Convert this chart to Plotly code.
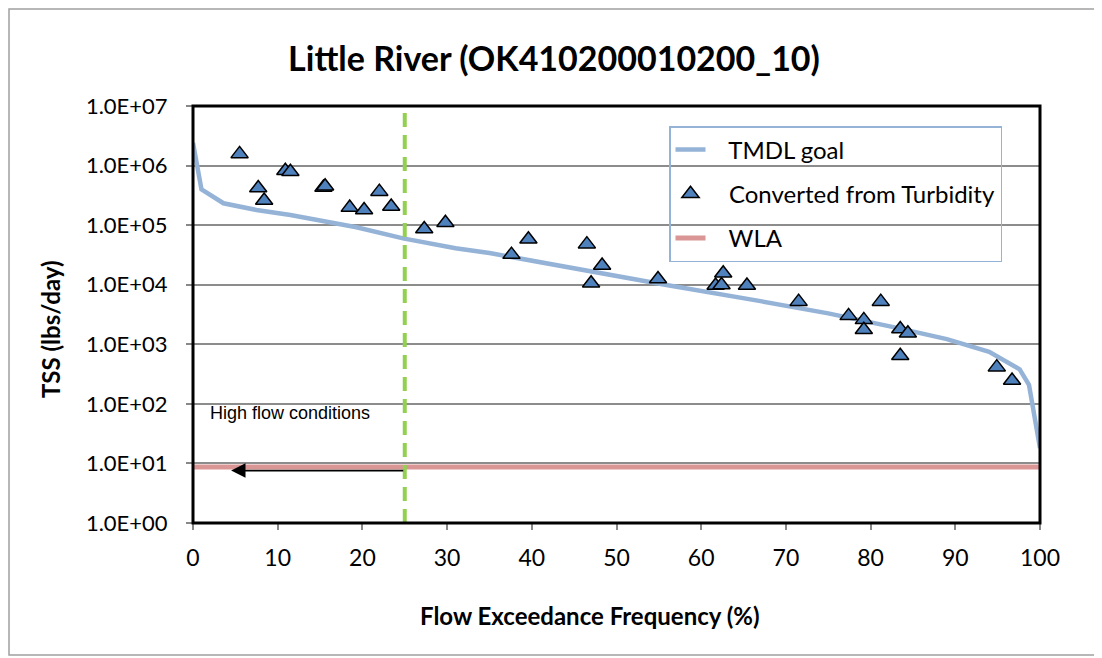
import plotly.graph_objects as go
import math

# ---- data ----
tmdl_x = [0, 1.0, 3.6, 7.5, 11.5, 15.4, 19.3, 24.8, 31.0, 35.0, 45.7, 55.9, 67.0, 75.0, 82.7, 89.0, 94.0, 97.6, 98.7, 100]
tmdl_y = [2.4e6, 4.0e5, 2.33e5, 1.8e5, 1.48e5, 1.19e5, 9.2e4, 6.0e4, 4.1e4, 3.4e4, 1.77e4, 9.9e3, 5.3e3, 3.3e3, 1.94e3, 1.22e3, 7.5e2, 3.8e2, 2.08e2, 18]

turb_x = [5.5, 7.7, 8.4, 10.9, 11.5, 15.4, 15.6, 18.5, 20.2, 22.0, 23.4, 27.3, 29.8,
          37.6, 39.6, 46.5, 47.0, 48.3, 54.9, 61.7, 62.4, 62.6, 65.4,
          71.5, 77.4, 79.2, 79.2, 81.2, 83.5, 83.5, 84.4, 94.9, 96.7]
turb_y = [1.57e6, 4.2e5, 2.6e5, 8.2e5, 7.9e5, 4.3e5, 4.5e5, 1.97e5, 1.8e5, 3.65e5, 2.05e5, 8.6e4, 1.1e5,
          3.2e4, 5.8e4, 4.8e4, 1.06e4, 2.1e4, 1.25e4, 9.7e3, 9.9e3, 1.56e4, 9.7e3,
          5.2e3, 3.0e3, 2.57e3, 1.75e3, 5.2e3, 1.8e3, 6.4e2, 1.53e3, 4.13e2, 2.47e2]

wla_x = [0, 100]
wla_y = [8.7, 8.7]

boundary_x = [25, 25]
boundary_y = [1, 1e7]

y_tickvals = [1, 10, 100, 1e3, 1e4, 1e5, 1e6, 1e7]
y_ticktext = ["1.0E+00", "1.0E+01", "1.0E+02", "1.0E+03", "1.0E+04", "1.0E+05", "1.0E+06", "1.0E+07"]
x_tickvals = [0, 10, 20, 30, 40, 50, 60, 70, 80, 90, 100]

title = "Little River (OK410200010200_10)"
font_main = "Lato, Open Sans, sans-serif"

W, H = 1094, 650
L, R, T, B = 185, 1032, 98, 515  # plot area in figure pixels


def px(fx):
    return (fx - L) / (R - L)


def py(fy):
    return (B - fy) / (B - T)


pad = "\u00a0" * 3

fig = go.Figure()

fig.add_trace(go.Scatter(
    x=tmdl_x, y=tmdl_y, mode="lines", name=pad + "TMDL goal",
    line=dict(color="#95B3D7", width=4.5), legendgroup="a"))
fig.add_trace(go.Scatter(
    x=turb_x, y=turb_y, mode="markers", name=pad + "Converted from Turbidity",
    marker=dict(symbol="triangle-up", size=15, color="#4F81BD",
                line=dict(color="black", width=1.5)), legendgroup="b"))
fig.add_trace(go.Scatter(
    x=wla_x, y=wla_y, mode="lines", name=pad + "WLA",
    line=dict(color="#D99694", width=5), legendgroup="c"))
fig.add_trace(go.Scatter(
    x=boundary_x, y=boundary_y, mode="lines", showlegend=False,
    line=dict(color="#92D050", width=4, dash="14px,8px"), hoverinfo="skip"))

fig.update_layout(
    width=W, height=H,
    margin=dict(l=L, r=W - R, t=T, b=H - B),
    paper_bgcolor="white", plot_bgcolor="white",
    font=dict(family=font_main, size=22, color="black"),
    title=dict(text="<b>" + title + "</b>", x=546 / W, xanchor="center",
               y=1 - 51 / H, yanchor="middle", font=dict(size=34)),
    showlegend=True,
    legend=dict(x=px(661), y=py(118), xanchor="left", yanchor="top",
                bgcolor="rgba(0,0,0,0)", bordercolor="#95B3D7", borderwidth=1.5,
                font=dict(size=24), tracegroupgap=10),
    xaxis=dict(range=[0, 100], tickvals=x_tickvals, showgrid=False, zeroline=False,
               ticks="outside", ticklen=6, tickcolor="#888888", tickwidth=1.5,
               showline=False, tickfont=dict(size=23), ticklabelstandoff=8),
    yaxis=dict(type="log", range=[0, 7], tickvals=y_tickvals, ticktext=y_ticktext,
               showgrid=True, gridcolor="#8C8C8C", gridwidth=1.5, zeroline=False,
               ticks="outside", ticklen=6, tickcolor="#888888", tickwidth=1.5,
               showline=False, tickfont=dict(size=22), ticklabelstandoff=14),
)

# plot-area frame
fig.add_shape(type="rect", xref="paper", yref="paper", x0=0, y0=0, x1=1, y1=1,
              line=dict(color="black", width=3), layer="above")
# outer chart border
fig.add_shape(type="rect", xref="paper", yref="paper",
              x0=px(1), x1=px(1087), y0=py(647), y1=py(1),
              line=dict(color="#A0A0A0", width=1.5))

# axis titles
fig.add_annotation(text="<b>Flow Exceedance Frequency (%)</b>", xref="paper", yref="paper",
                   x=px(581), y=py(607), showarrow=False, font=dict(size=24),
                   xanchor="center", yanchor="middle")
fig.add_annotation(text="<b>TSS (lbs/day)</b>", xref="paper", yref="paper",
                   x=px(42), y=py(321), textangle=-90, showarrow=False,
                   font=dict(size=24), xanchor="center", yanchor="middle")

# high flow arrow + label
fig.add_annotation(x=4.5, y=math.log10(7.6), ax=25, ay=math.log10(7.6),
                   xref="x", yref="y", axref="x", ayref="y", text="",
                   showarrow=True, arrowhead=2, arrowsize=1.6, arrowwidth=1.8,
                   arrowcolor="black")
fig.add_annotation(x=1.8, y=math.log10(70), xref="x", yref="y",
                   text="High flow conditions", showarrow=False,
                   xanchor="left", yanchor="middle",
                   font=dict(family="Liberation Sans, Arial, sans-serif", size=18))

fig.write_html("out.html")
